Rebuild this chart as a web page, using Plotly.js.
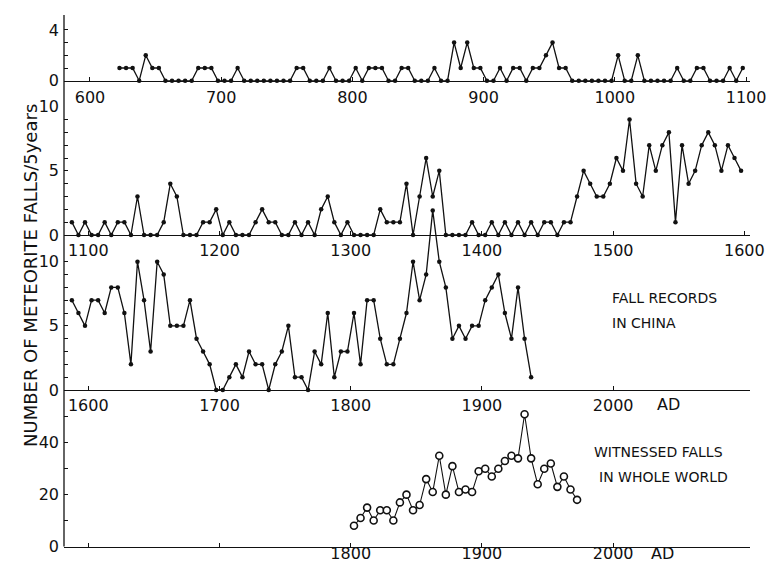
<!DOCTYPE html>
<html><head><meta charset="utf-8">
<script src="https://cdn.plot.ly/plotly-3.0.1.min.js"></script>
<style>html,body{margin:0;padding:0;background:#fff}#chart{width:768px;height:562px}</style>
</head><body><div id="chart"></div>
<script>
// 5-year bins; each array starts at the given bin centre
const STEP = 5;
const chinaAStart = 622.5;
const chinaA = [1,1,1,0,2,1,1,0,0, 0,0,0,1,1,1,0,0,0, 1,0,0,0,0,0,0,0,0,
  1,1,0,0,0,1,0,0,0, 1,0,1,1,1,0,0,1,1, 0,0,0,1,0,0,3,1,3,
  1,1,0,0,1,0,1,1,0, 1,1,2,3,1,1,0,0,0, 0,0,0,0,2,0,0,2,0,
  0,0,0,0,1,0,0,1,1, 0,0,0,1,0,1];
const chinaBStart = 1087.5;
const chinaB = [1,0,1,0,0,1,0,1,1, 0,3,0,0,0,1,4,3,0, 0,0,1,1,2,0,1,0,0,
  0,1,2,1,1,0,0,1,0, 1,0,2,3,1,0,1,0,0, 0,0,2,1,1,1,4,0,3,
  6,3,5,0,0,0,0,1,0, 0,1,0,1,0,1,0,1,0, 1,1,0,1,1,3,5,4,3,
  3,4,6,5,9,4,3,7,5, 7,8,1,7,4,5,7,8,7, 5,7,6,5];
const chinaCStart = 1587.5;
const chinaC = [7,6,5,7,7,6,8,8,6, 2,10,7,3,10,9,5,5,5, 7,4,3,2,0,0,1,2,1,
  3,2,2,0,2,3,5,1,1, 0,3,2,6,1,3,3,6,2, 7,7,4,2,2,4,6,10,7,
  9,14,10,8,4,5,4,5,5, 7,8,9,6,4,8,4,1];
const worldStart = 1802.5;
const world = [8,11,15,10,14,14,10,17,20,14,16,26,21,35,20,31,21,22,21,29,
  30,27,30,33,35,34,51,34,24,30,32,23,27,22,18];

const xTicks1 = [600,700,800,900,1000,1100];
const xTicks2 = [1100,1200,1300,1400,1500,1600];
const xTicks3 = [1600,1700,1800,1900,2000];
const xTicks4 = [1600,1700,1800,1900,2000];
const xText4 = ['','','1800','1900','2000'];
const yTicks1 = [0,1,2,3,4,5];
const yText1 = ['0','','','','4',''];
const yTicks23 = [0,1,2,3,4,5,6,7,8,9,10];
const yText23 = ['0','','','','','5','','','','','10'];
const yTicks4 = [0,10,20,30,40,50];
const yText4 = ['0','','20','','40',''];

const bins = (start, arr) => arr.map((_, i) => start + STEP * i);

const INK = '#111';
function dots(start, vals, xa, ya) {
  return {type:'scatter', mode:'lines+markers', x: bins(start, vals), y: vals,
    xaxis: xa, yaxis: ya, line:{color:INK, width:1.3},
    marker:{color:INK, size:4.5}, cliponaxis:false, hoverinfo:'skip'};
}
const traces = [
  dots(chinaAStart, chinaA, 'x', 'y'),
  dots(chinaBStart, chinaB, 'x2', 'y2'),
  dots(chinaCStart, chinaC, 'x3', 'y3'),
  {type:'scatter', mode:'lines+markers', x: bins(worldStart, world), y: world,
   xaxis:'x4', yaxis:'y4', line:{color:INK, width:1.1},
   marker:{symbol:'circle', color:'#fff', size:7, line:{color:INK, width:1.6}},
   cliponaxis:false, hoverinfo:'skip'}
];

const H = 562, L = 64, W = 686;
const py = p => (H - p) / H;
const px = p => (p - L) / W;
const tickFont = {family:'DejaVu Sans', size:16, color:INK};

function xa(range, vals, text, anchor, standoff) {
  return {domain:[0,1], range, anchor, tickmode:'array', tickvals: vals,
    ticktext: text || vals.map(String), ticks:'inside', ticklen:4, tickwidth:1,
    tickcolor:INK, showline:true, linecolor:INK, linewidth:1.3,
    showgrid:false, zeroline:false, tickfont:tickFont, ticklabelstandoff: standoff};
}
function ya(range, dom, vals, text, anchor) {
  return {domain:dom, range, anchor, tickmode:'array', tickvals: vals, ticktext: text,
    ticks:'inside', ticklen:4, tickwidth:1, tickcolor:INK, showline:false,
    showgrid:false, zeroline:false, tickfont:tickFont, ticklabelstandoff:4};
}

const annFont = {family:'DejaVu Sans', size:14, color:INK};
const ann = (text, x, y, xanchor) => ({text, xref:'paper', yref:'paper', x: px(x), y: py(y),
  xanchor: xanchor || 'left', yanchor:'middle', showarrow:false, font:annFont});

const layout = {
  width:768, height:562,
  margin:{l:L, r:768 - L - W, t:0, b:0},
  paper_bgcolor:'#fff', plot_bgcolor:'rgba(0,0,0,0)',
  showlegend:false,
  font:{family:'DejaVu Sans', color:INK},
  xaxis:  xa([580.2, 1103.0], xTicks1, null, 'y', 2),
  xaxis2: xa([1081.5, 1604.3], xTicks2, null, 'y2', 0),
  xaxis3: xa([1581.5, 2104.3], xTicks3, null, 'y3', 0),
  xaxis4: xa([1581.5, 2104.3], xTicks4, xText4, 'y4', -8),
  yaxis:  ya([0, 5], [py(80.7), py(17.2)], yTicks1, yText1, 'x'),
  yaxis2: ya([0, 10], [py(235), py(106.7)], yTicks23, yText23, 'x2'),
  yaxis3: ya([0, 14.5], [py(390), py(204)], yTicks23, yText23, 'x3'),
  yaxis4: ya([0, 55], [py(546.5), py(403.9)], yTicks4, yText4, 'x4'),
  shapes:[{type:'line', xref:'paper', yref:'paper', x0:0, x1:0, y0:py(546.5), y1:py(15),
    line:{color:INK, width:1.3}}],
  annotations:[
    ann('FALL RECORDS', 610, 298),
    ann('IN CHINA', 610, 323),
    ann('WITNESSED FALLS', 592, 452),
    ann('IN WHOLE WORLD', 597, 477),
    {text:'AD', xref:'paper', yref:'paper', x:px(668), y:py(404), xanchor:'center', yanchor:'middle',
     showarrow:false, font:tickFont},
    {text:'AD', xref:'paper', yref:'paper', x:px(662), y:py(553), xanchor:'center', yanchor:'middle',
     showarrow:false, font:tickFont},
    {text:'NUMBER OF METEORITE FALLS/5years', xref:'paper', yref:'paper', x:px(30), y:py(276),
     xanchor:'center', yanchor:'middle', textangle:-90, showarrow:false,
     font:{family:'DejaVu Sans', size:18, color:INK}}
  ]
};
Plotly.newPlot('chart', traces, layout, {staticPlot:true, displayModeBar:false});
</script></body></html>
